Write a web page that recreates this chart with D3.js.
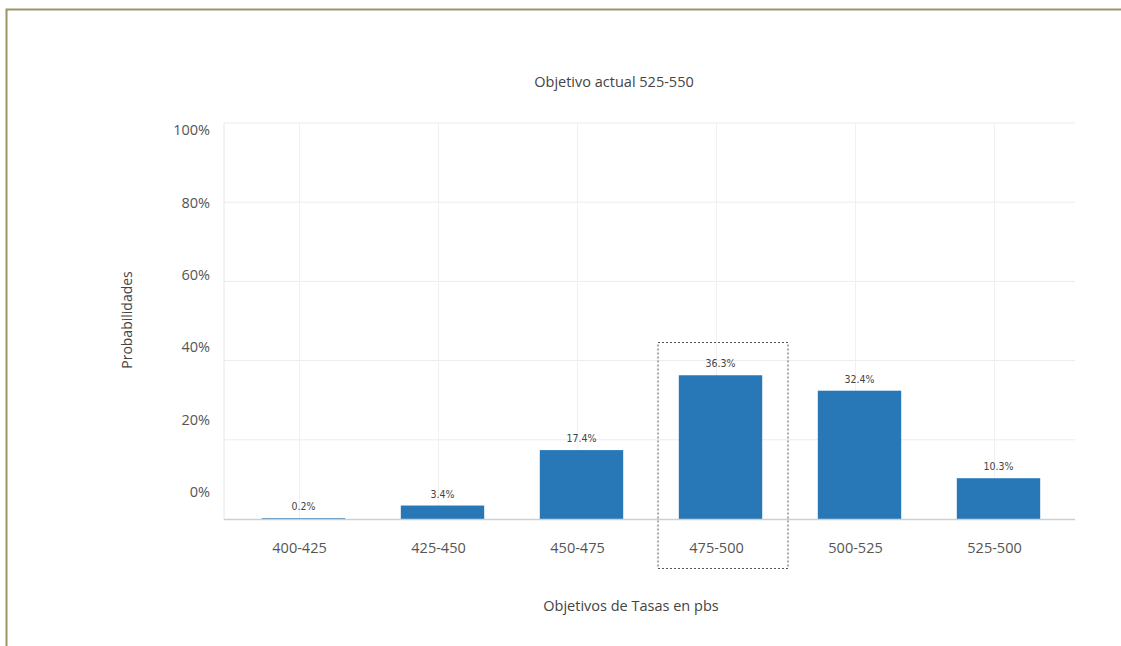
<!DOCTYPE html>
<html>
<head>
<meta charset="utf-8">
<script src="https://cdn.jsdelivr.net/npm/d3@7"></script>
<style>
  body { margin: 0; background: #fff; }
  svg text { font-family: "Open Sans", "Noto Sans", sans-serif; fill: #555; }
  .val { font-family: "Liberation Sans Narrow", "DejaVu Sans Condensed", sans-serif; font-size: 10.5px; fill: #444; }
</style>
</head>
<body>
<svg id="chart" width="1121" height="646"></svg>
<script>
// categories and probabilities (%)
const categories = ["400-425", "425-450", "450-475", "475-500", "500-525", "525-500"];
const values = [0.2, 3.4, 17.4, 36.3, 32.4, 10.3];
const yTicks = [0, 20, 40, 60, 80, 100];
const highlighted = "475-500";

const svg = d3.select("#chart");

// outer frame, left and top only
svg.append("path")
    .attr("d", "M6.5,646V9.5H1121")
    .attr("fill", "none")
    .attr("stroke", "#9c9466")
    .attr("stroke-width", 2);

let x = d3.scaleBand()
    .domain(categories)
    .range([234, 1068])
    .paddingInner(0.4)
    .paddingOuter(0.2);

let y = d3.scaleLinear().domain([0, 100]).range([519, 123]);
// tick labels sit a bit off the grid in the original
let yLabel = d3.scaleLinear().domain([0, 100]).range([492, 130]);

let grid = svg.append("g").attr("class", "grid");

grid.selectAll("line.h")
    .data(yTicks.filter(d => d > 0))
    .enter().append("line")
    .attr("class", "h")
    .attr("x1", 224).attr("x2", 1075)
    .attr("y1", d => y(d)).attr("y2", d => y(d))
    .attr("stroke", "#ececec");

grid.selectAll("line.v")
    .data(categories)
    .enter().append("line")
    .attr("class", "v")
    .attr("x1", d => x(d) + x.bandwidth() / 2 - 4)
    .attr("x2", d => x(d) + x.bandwidth() / 2 - 4)
    .attr("y1", y(100)).attr("y2", y(0))
    .attr("stroke", "#f0f0f0");

grid.append("line")
    .attr("x1", 224).attr("x2", 224)
    .attr("y1", y(100)).attr("y2", y(0))
    .attr("stroke", "#e6e6e6");

// y labels
let yAxis = d3.axisLeft(yLabel)
    .tickValues(yTicks)
    .tickFormat(d => d + "%")
    .tickSize(0)
    .tickPadding(0);

let ya = svg.append("g")
    .attr("transform", "translate(210,0)")
    .call(yAxis);
ya.select(".domain").remove();
ya.selectAll("text")
    .style("font-size", "14.5px")
    .style("fill", "#555");

// bars
svg.selectAll("rect.bar")
    .data(values)
    .enter().append("rect")
    .attr("class", "bar")
    .attr("x", (d, i) => x(categories[i]))
    .attr("y", d => y(d))
    .attr("width", x.bandwidth())
    .attr("height", d => y(0) - y(d))
    .attr("fill", "#2878b8");

// baseline
svg.append("line")
    .attr("x1", 224).attr("x2", 1075)
    .attr("y1", y(0) + 0.5).attr("y2", y(0) + 0.5)
    .attr("stroke", "#cfcfcf")
    .attr("stroke-width", 1.5);

// value labels
svg.selectAll("text.val")
    .data(values)
    .enter().append("text")
    .attr("class", "val")
    .attr("x", (d, i) => x(categories[i]) + x.bandwidth() / 2)
    .attr("y", d => y(d) - 8)
    .attr("text-anchor", "middle")
    .text(d => d.toFixed(1) + "%");

// x labels
let xAxis = d3.axisBottom(x).tickSize(0).tickPadding(0);
let xa = svg.append("g")
    .attr("transform", "translate(-4,553)")
    .call(xAxis);
xa.select(".domain").remove();
xa.selectAll("text")
    .attr("dy", 0)
    .style("font-size", "14.5px")
    .style("fill", "#555");

// dashed highlight box
let hx = x(highlighted) + x.bandwidth() / 2;
svg.append("rect")
    .attr("x", hx - 62.5)
    .attr("y", 342.5)
    .attr("width", 130)
    .attr("height", 226)
    .attr("fill", "none")
    .attr("stroke", "#555")
    .attr("stroke-width", 1)
    .attr("stroke-dasharray", "2,2");

// titles
svg.append("text")
    .attr("x", 614).attr("y", 87)
    .attr("text-anchor", "middle")
    .style("font-size", "14.5px")
    .style("fill", "#444")
    .text("Objetivo actual 525-550");

svg.append("text")
    .attr("x", 631).attr("y", 611)
    .attr("text-anchor", "middle")
    .style("font-size", "14.5px")
    .style("fill", "#444")
    .text("Objetivos de Tasas en pbs");

svg.append("text")
    .attr("transform", "translate(132,320) rotate(-90)")
    .attr("text-anchor", "middle")
    .style("font-size", "14px")
    .style("fill", "#444")
    .text("Probabilidades");
</script>
</body>
</html>
